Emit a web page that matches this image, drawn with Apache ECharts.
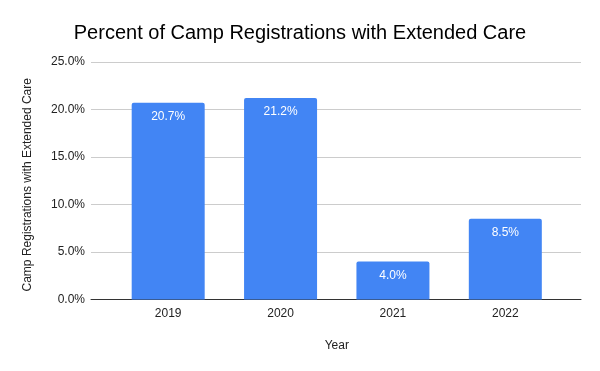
<!DOCTYPE html>
<html><head><meta charset="utf-8">
<script src="https://cdn.jsdelivr.net/npm/echarts@6/dist/echarts.min.js"></script>
<style>html,body{margin:0;padding:0;background:#fff}#c{width:600px;height:371px}</style>
</head><body><div id="c"></div>
<script>
const categories = ['2019', '2020', '2021', '2022'];
const values = [20.7, 21.2, 4.0, 8.5];
const yTicks = [0, 5, 10, 15, 20, 25];

const chart = echarts.init(document.getElementById('c'), null, {renderer: 'canvas'});
const font = 'Arial, "Liberation Sans", sans-serif';
const yMin = yTicks[0], yMax = yTicks[yTicks.length - 1], yStep = yTicks[1] - yTicks[0];
chart.setOption({
  animation: false,
  backgroundColor: '#ffffff',
  title: {
    text: 'Percent of Camp Registrations with Extended Care',
    left: 'center', top: 18,
    textStyle: {fontFamily: font, fontSize: 20, fontWeight: 'normal', color: '#000'}
  },
  grid: [
    {left: 91, right: 19, top: 62, bottom: 71.5},
    {left: 112, right: 38.5, top: 62, bottom: 71.5}
  ],
  xAxis: [
    {gridIndex: 0, type: 'category', data: categories, axisLabel: {show: false}, axisTick: {show: false},
     axisLine: {show: true, lineStyle: {color: '#333', width: 1}}},
    {gridIndex: 1, type: 'category', data: categories,
     name: 'Year', nameLocation: 'middle', nameGap: 40,
     nameTextStyle: {fontFamily: font, fontSize: 12, color: '#222'},
     axisLine: {show: false}, axisTick: {show: false},
     axisLabel: {fontFamily: font, fontSize: 12, color: '#222', margin: 8}}
  ],
  yAxis: [
    {gridIndex: 0, type: 'value', min: yMin, max: yMax, interval: yStep,
     name: 'Camp Registrations with Extended Care', nameLocation: 'middle', nameGap: 57,
     nameTextStyle: {fontFamily: font, fontSize: 12, color: '#222', padding: [0, 8, 0, 0]},
     axisLine: {show: false}, axisTick: {show: false},
     axisLabel: {fontFamily: font, fontSize: 12, color: '#222', margin: 6, formatter: v => v.toFixed(1) + '%'},
     splitLine: {lineStyle: {color: '#cccccc', width: 1}}},
    {gridIndex: 1, type: 'value', min: yMin, max: yMax, interval: yStep, show: false, splitLine: {show: false}}
  ],
  series: [{
    type: 'bar', xAxisIndex: 1, yAxisIndex: 1, data: values,
    barWidth: 73,
    itemStyle: {color: '#4285f4', borderRadius: [2, 2, 0, 0]},
    label: {show: true, position: 'insideTop', distance: 8, color: '#fff',
      fontFamily: font, fontSize: 12, formatter: p => p.value.toFixed(1) + '%'}
  }]
});
</script></body></html>
